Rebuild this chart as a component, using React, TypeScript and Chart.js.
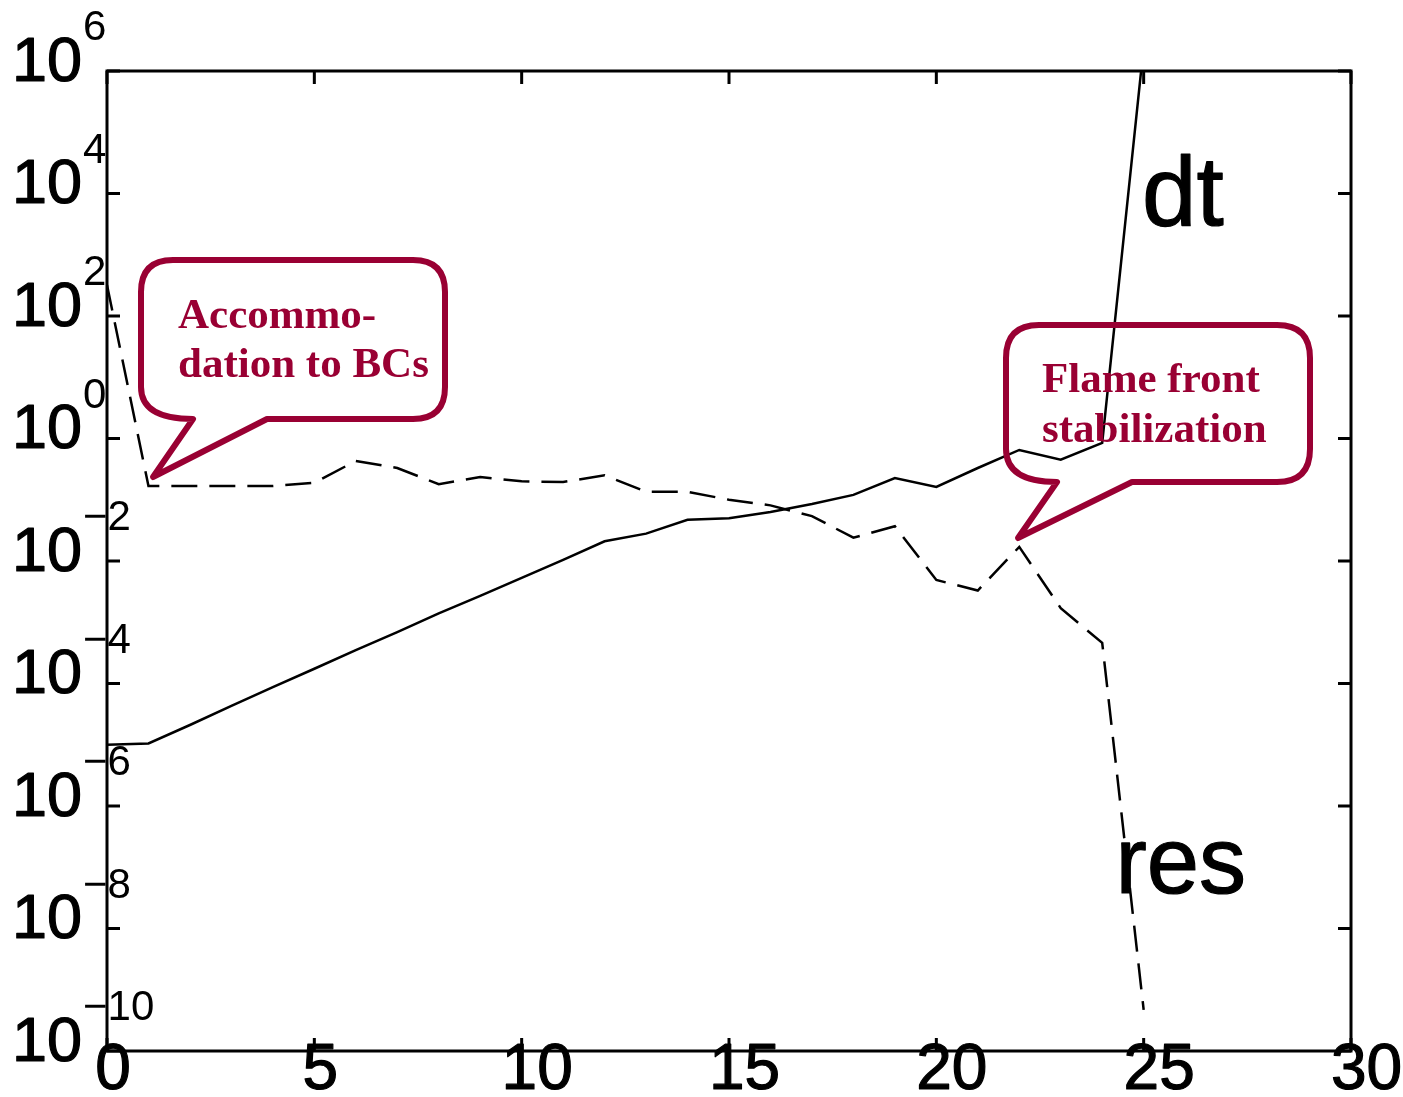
import React, { useEffect, useRef } from "react";
import { Chart, registerables } from "chart.js";

Chart.register(...registerables);

// ---- data ----
const iterations = [0, 1, 2, 3, 4, 5, 6, 7, 8, 9, 10, 11, 12, 13, 14, 15, 16, 17, 18, 19, 20, 21, 22, 23, 24, 25];
const dtValues = [
  1.0e-5, 1.05e-5, 2.1e-5, 4.3e-5, 8.7e-5, 1.74e-4, 3.5e-4, 6.9e-4, 1.4e-3, 2.7e-3,
  5.3e-3, 1.04e-2, 2.1e-2, 2.8e-2, 4.7e-2, 5.0e-2, 6.3e-2, 8.5e-2, 0.12, 0.226,
  0.162, 0.33, 0.65, 0.45, 0.85, 2.5e6,
];
const resValues = [
  320, 0.168, 0.168, 0.168, 0.168, 0.19, 0.43, 0.33, 0.18, 0.235,
  0.2, 0.195, 0.25, 0.135, 0.135, 0.1, 0.081, 0.054, 0.024, 0.037,
  0.0049, 0.0033, 0.017, 0.0017, 4.6e-4, 4.7e-10,
];
const xTicks = [0, 5, 10, 15, 20, 25, 30];
const yTickExponents = [6, 4, 2, 0, -2, -4, -6, -8, -10];
const seriesNames = ["dt", "res"];
const callout1Lines = ["Accommo-", "dation to BCs"];
const callout2Lines = ["Flame front", "stabilization"];

const CALLOUT_COLOR = "#990033";

function drawCallout(
  ctx: CanvasRenderingContext2D,
  L: number, T: number, R: number, B: number, r: number,
  tailLeft: number, tipX: number, tipY: number, tailRight: number
) {
  ctx.beginPath();
  ctx.moveTo(L + r, T);
  ctx.lineTo(R - r, T);
  ctx.quadraticCurveTo(R, T, R, T + r);
  ctx.lineTo(R, B - r);
  ctx.quadraticCurveTo(R, B, R - r, B);
  ctx.lineTo(tailRight, B);
  ctx.lineTo(tipX, tipY);
  ctx.lineTo(tailLeft, B);
  ctx.quadraticCurveTo(L, B, L, B - r);
  ctx.lineTo(L, T + r);
  ctx.quadraticCurveTo(L, T, L + r, T);
  ctx.closePath();
  ctx.stroke();
}

function boldText(ctx: CanvasRenderingContext2D, s: string, x: number, y: number, w: number) {
  ctx.fillText(s, x, y);
  ctx.lineWidth = w;
  ctx.strokeText(s, x, y);
}

const decorPlugin = {
  id: "decor",
  afterDraw(chart: any) {
    const ctx: CanvasRenderingContext2D = chart.ctx;
    const xs = chart.scales.x;
    const ys = chart.scales.y;
    const a = chart.chartArea;
    ctx.save();

    // axes box
    ctx.strokeStyle = "#000";
    ctx.lineWidth = 3;
    ctx.strokeRect(a.left, a.top, a.right - a.left, a.bottom - a.top);

    // ticks (inward, all four sides)
    const tl = 13;
    ctx.beginPath();
    xTicks.forEach((v) => {
      const px = xs.getPixelForValue(v);
      ctx.moveTo(px, a.bottom);
      ctx.lineTo(px, a.bottom - tl);
      ctx.moveTo(px, a.top);
      ctx.lineTo(px, a.top + tl);
    });
    yTickExponents.forEach((e) => {
      const py = ys.getPixelForValue(Math.pow(10, e));
      ctx.moveTo(a.left, py);
      ctx.lineTo(a.left + tl, py);
      ctx.moveTo(a.right, py);
      ctx.lineTo(a.right - tl, py);
    });
    ctx.stroke();

    // x tick labels
    ctx.fillStyle = "#000";
    ctx.strokeStyle = "#000";
    ctx.lineJoin = "round";
    ctx.font = "64px 'Liberation Sans', Arial, sans-serif";
    ctx.textAlign = "center";
    ctx.textBaseline = "alphabetic";
    xTicks.forEach((v) => {
      const s = String(v);
      const px = xs.getPixelForValue(v) + (s.length > 1 ? 15.5 : 6);
      boldText(ctx, s, px, a.bottom + 38, 1.2);
    });

    // y tick labels: 10 with superscript exponent
    yTickExponents.forEach((e) => {
      const py = ys.getPixelForValue(Math.pow(10, e));
      ctx.font = "63px 'Liberation Sans', Arial, sans-serif";
      ctx.textAlign = "right";
      boldText(ctx, "10", a.left - 25, py + 9.5, 1.2);
      ctx.font = "42px 'Liberation Sans', Arial, sans-serif";
      ctx.textAlign = "left";
      const es = e < 0 ? "\u2212" + String(-e) : String(e);
      ctx.fillText(es, a.left - 24, py - 31);
    });

    // series labels
    ctx.textAlign = "left";
    ctx.font = "98px 'Liberation Sans', Arial, sans-serif";
    boldText(ctx, seriesNames[0], 1142, 225, 1.2);
    ctx.font = "94px 'Liberation Sans', Arial, sans-serif";
    boldText(ctx, seriesNames[1], 1115.5, 893, 1.2);

    // callouts
    ctx.strokeStyle = CALLOUT_COLOR;
    ctx.lineWidth = 6;
    ctx.lineJoin = "round";
    drawCallout(ctx, 141, 260, 445, 419, 32, 193, 153, 477, 267);
    drawCallout(ctx, 1006, 325, 1310, 482, 33, 1057, 1018, 538, 1132);

    ctx.fillStyle = CALLOUT_COLOR;
    ctx.font = "bold 43px 'Liberation Serif', 'Times New Roman', serif";
    ctx.fillText(callout1Lines[0], 178, 328);
    ctx.fillText(callout1Lines[1], 178, 377);
    ctx.fillText(callout2Lines[0], 1042, 392);
    ctx.fillText(callout2Lines[1], 1042, 442);

    ctx.restore();
  },
};

export default function App() {
  const ref = useRef<HTMLCanvasElement | null>(null);

  useEffect(() => {
    if (!ref.current) return;
    const chart = new Chart(ref.current, {
      type: "line",
      data: {
        datasets: [
          {
            label: seriesNames[0],
            data: iterations.map((x, i) => ({ x, y: dtValues[i] })),
            borderColor: "#000",
            borderWidth: 2.5,
            pointRadius: 0,
            tension: 0,
            fill: false,
          },
          {
            label: seriesNames[1],
            data: iterations.map((x, i) => ({ x, y: resValues[i] })),
            borderColor: "#000",
            borderWidth: 2.5,
            borderDash: [26, 12],
            pointRadius: 0,
            tension: 0,
            fill: false,
          },
        ],
      },
      options: {
        responsive: false,
        animation: false,
        layout: { padding: { left: 107, top: 71, right: 52, bottom: 46 } },
        plugins: { legend: { display: false }, tooltip: { enabled: false } },
        scales: {
          x: { type: "linear", min: 0, max: 30, display: false },
          y: { type: "logarithmic", min: 1e-10, max: 1e6, display: false },
        },
      },
      plugins: [decorPlugin],
    });
    return () => chart.destroy();
  }, []);

  return (
    <div style={{ position: "absolute", left: 0, top: 0, width: 1403, height: 1097, background: "#fff" }}>
      <canvas ref={ref} width={1403} height={1097} style={{ display: "block" }} />
    </div>
  );
}
